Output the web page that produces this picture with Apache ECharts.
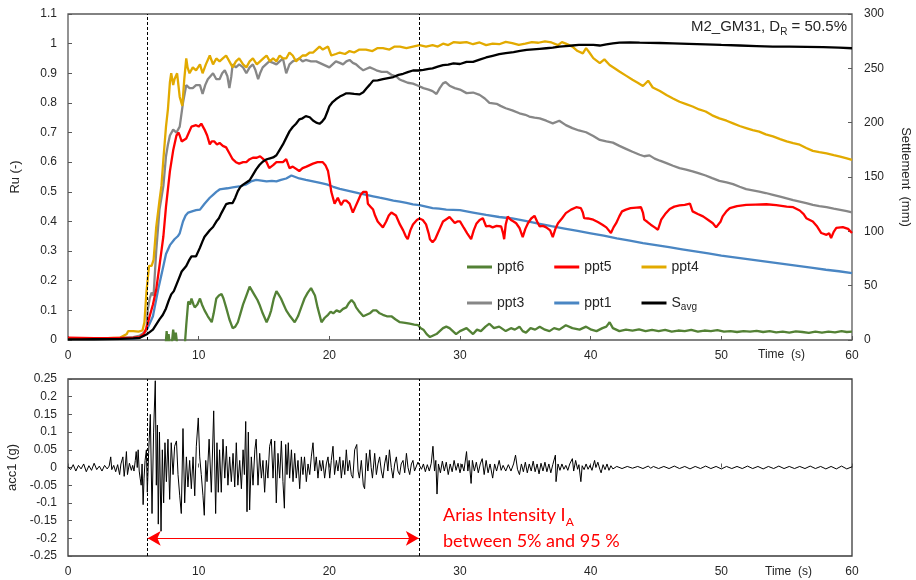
<!DOCTYPE html>
<html lang="en">

<head>
  <meta charset="UTF-8">
  <title>M2_GM31 pore pressure</title>
  <script src="https://cdn.jsdelivr.net/npm/echarts@6/dist/echarts.min.js"></script>
  <style>
    body { margin: 0; background: #fff; }
  </style>
</head>

<body>
  <div id="main" style="width: 916px;height: 580px;"></div>

  <script>
    // readings are [time (s), value]
    var ppt6 = [[0,-0.03],[7.45,-0.03],[7.55,0.03],[7.62,-0.01],[7.7,0.02],[7.8,-0.02],[7.95,-0.01],[8.05,0.035],[8.15,0.0],[8.25,0.025],[8.4,-0.03],[8.9,-0.04],[9.05,0.05],[9.2,0.13],[9.35,0.12],[9.45,0.14],[9.6,0.12],[9.7,0.11],[9.9,0.12],[10.1,0.14],[10.25,0.12],[10.45,0.1],[10.7,0.08],[11.0,0.06],[11.15,0.09],[11.35,0.14],[11.55,0.15],[11.75,0.155],[11.9,0.14],[12.1,0.11],[12.35,0.07],[12.6,0.04],[12.8,0.045],[13.0,0.06],[13.2,0.09],[13.4,0.12],[13.65,0.15],[13.9,0.18],[14.1,0.165],[14.3,0.15],[14.5,0.135],[14.65,0.12],[14.9,0.09],[15.2,0.06],[15.4,0.08],[15.55,0.1],[15.75,0.14],[15.95,0.165],[16.1,0.155],[16.3,0.14],[16.5,0.12],[16.7,0.1],[17.0,0.08],[17.35,0.06],[17.6,0.08],[17.85,0.11],[18.1,0.14],[18.35,0.16],[18.6,0.175],[18.75,0.17],[18.9,0.15],[19.1,0.11],[19.4,0.06],[19.65,0.075],[19.9,0.085],[20.1,0.095],[20.3,0.09],[20.55,0.1],[20.8,0.095],[21.05,0.105],[21.3,0.11],[21.5,0.125],[21.7,0.135],[21.9,0.125],[22.05,0.11],[22.3,0.095],[22.6,0.08],[22.85,0.085],[23.1,0.09],[23.35,0.1],[23.6,0.1],[23.85,0.09],[24.1,0.085],[24.4,0.08],[24.75,0.08],[25.05,0.07],[25.4,0.06],[25.8,0.058],[26.15,0.055],[26.5,0.052],[26.8,0.05],[27.0,0.04],[27.2,0.035],[27.45,0.02],[27.7,0.01],[27.95,0.015],[28.2,0.02],[28.45,0.03],[28.7,0.04],[28.95,0.045],[29.2,0.04],[29.45,0.03],[29.7,0.02],[30,0.03],[30.25,0.035],[30.5,0.04],[30.75,0.03],[31,0.02],[31.3,0.035],[31.6,0.03],[31.95,0.045],[32.25,0.055],[32.6,0.04],[33.0,0.045],[33.5,0.03],[33.9,0.04],[34.2,0.035],[34.55,0.045],[34.8,0.03],[35.05,0.025],[35.4,0.04],[35.75,0.035],[36.1,0.045],[36.5,0.035],[36.85,0.03],[37.2,0.04],[37.6,0.035],[38.1,0.05],[38.6,0.04],[39.15,0.035],[39.65,0.045],[40.05,0.035],[40.45,0.03],[40.9,0.04],[41.2,0.045],[41.45,0.06],[41.7,0.04],[42.2,0.03],[42.7,0.035],[43.2,0.032],[43.7,0.036],[44.2,0.03],[44.7,0.034],[45.2,0.03],[45.7,0.034],[46.2,0.028],[46.7,0.032],[47.2,0.03],[47.7,0.034],[48.2,0.028],[48.7,0.032],[49.2,0.03],[49.7,0.033],[50.2,0.028],[50.7,0.03],[51.2,0.027],[51.7,0.03],[52.2,0.028],[52.7,0.031],[53.2,0.027],[53.7,0.03],[54.2,0.026],[54.7,0.028],[55.2,0.025],[55.7,0.029],[56.2,0.027],[56.7,0.024],[57.2,0.028],[57.7,0.025],[58.2,0.028],[58.7,0.026],[59.2,0.03],[59.6,0.027],[60,0.028]]

    var ppt5 = [[0,0.008],[1,0.007],[2,0.006],[3,0.006],[4,0.007],[5,0.008],[5.5,0.01],[5.8,0.02],[6.0,0.04],[6.25,0.08],[6.5,0.12],[6.75,0.17],[7.0,0.25],[7.3,0.35],[7.5,0.45],[7.8,0.57],[8.05,0.64],[8.3,0.69],[8.45,0.7],[8.55,0.69],[8.7,0.67],[8.8,0.665],[9.05,0.68],[9.25,0.7],[9.45,0.72],[9.6,0.72],[9.8,0.725],[10.0,0.72],[10.2,0.73],[10.45,0.71],[10.65,0.69],[10.85,0.66],[11.0,0.67],[11.2,0.67],[11.4,0.66],[11.6,0.665],[11.85,0.655],[12.1,0.65],[12.35,0.63],[12.6,0.61],[12.85,0.6],[13.1,0.595],[13.4,0.6],[13.65,0.6],[13.9,0.61],[14.15,0.615],[14.45,0.615],[14.7,0.62],[14.95,0.61],[15.2,0.6],[15.4,0.58],[15.7,0.59],[15.95,0.6],[16.2,0.6],[16.45,0.6],[16.7,0.61],[16.95,0.58],[17.2,0.585],[17.35,0.58],[17.7,0.57],[17.95,0.58],[18.25,0.585],[18.5,0.59],[18.75,0.595],[19.1,0.6],[19.5,0.6],[19.7,0.59],[19.9,0.57],[20.05,0.53],[20.15,0.5],[20.4,0.46],[20.65,0.48],[20.9,0.455],[21.1,0.47],[21.3,0.47],[21.55,0.46],[21.8,0.43],[22.0,0.45],[22.2,0.47],[22.4,0.49],[22.6,0.5],[22.85,0.5],[22.95,0.46],[23.15,0.45],[23.35,0.44],[23.5,0.42],[23.7,0.4],[23.9,0.39],[24.1,0.38],[24.35,0.4],[24.55,0.42],[24.75,0.43],[24.9,0.425],[25.1,0.42],[25.4,0.39],[25.65,0.37],[25.85,0.35],[26.0,0.34],[26.2,0.37],[26.4,0.39],[26.7,0.405],[26.9,0.41],[27.15,0.405],[27.4,0.39],[27.6,0.36],[27.7,0.34],[27.9,0.33],[28.1,0.34],[28.3,0.36],[28.5,0.38],[28.7,0.4],[28.9,0.406],[29.2,0.415],[29.35,0.41],[29.6,0.395],[29.8,0.4],[30,0.4],[30.3,0.378],[30.55,0.36],[30.85,0.34],[31.05,0.37],[31.25,0.392],[31.5,0.405],[31.75,0.411],[32.0,0.383],[32.25,0.385],[32.5,0.38],[32.8,0.385],[33.15,0.383],[33.3,0.36],[33.38,0.34],[33.5,0.39],[33.65,0.417],[33.9,0.405],[34.1,0.4],[34.3,0.394],[34.55,0.378],[34.8,0.347],[35.0,0.375],[35.2,0.394],[35.45,0.41],[35.7,0.419],[35.9,0.4],[36.1,0.383],[36.35,0.385],[36.6,0.38],[36.9,0.37],[37.1,0.347],[37.3,0.375],[37.5,0.394],[37.8,0.41],[38.1,0.428],[38.5,0.44],[38.9,0.448],[39.25,0.445],[39.4,0.43],[39.5,0.411],[39.8,0.41],[40.2,0.406],[40.55,0.398],[40.9,0.389],[41.2,0.38],[41.55,0.361],[41.75,0.38],[41.95,0.394],[42.2,0.418],[42.4,0.434],[42.7,0.44],[43.05,0.445],[43.5,0.447],[43.85,0.448],[44.0,0.43],[44.1,0.406],[44.35,0.398],[44.6,0.389],[44.9,0.38],[45.15,0.372],[45.4,0.406],[45.7,0.425],[46.05,0.442],[46.4,0.45],[46.8,0.454],[47.2,0.456],[47.6,0.46],[47.8,0.434],[48.2,0.425],[48.6,0.417],[49.0,0.405],[49.35,0.394],[49.6,0.38],[49.75,0.374],[49.95,0.4],[50.1,0.417],[50.4,0.435],[50.65,0.445],[51.2,0.452],[51.9,0.456],[52.6,0.457],[53.45,0.458],[54.2,0.455],[55,0.45],[55.5,0.448],[56,0.437],[56.3,0.425],[56.5,0.411],[57,0.4],[57.3,0.385],[57.65,0.361],[58.05,0.355],[58.25,0.36],[58.4,0.344],[58.6,0.365],[58.8,0.378],[59.3,0.381],[59.7,0.375],[60,0.361]]

    var ppt4 = [[0,0.005],[1,0.006],[2,0.004],[3,0.006],[4,0.008],[4.5,0.02],[4.6,0.03],[5.0,0.03],[5.4,0.028],[5.7,0.032],[5.85,0.06],[6.0,0.16],[6.2,0.25],[6.4,0.25],[6.55,0.27],[6.75,0.38],[7.0,0.47],[7.15,0.52],[7.3,0.61],[7.5,0.72],[7.65,0.78],[7.8,0.87],[7.9,0.9],[8.05,0.86],[8.15,0.88],[8.35,0.9],[8.45,0.86],[8.55,0.82],[8.75,0.79],[8.9,0.88],[9.05,0.95],[9.15,0.92],[9.3,0.9],[9.55,0.92],[9.8,0.91],[10.1,0.93],[10.3,0.9],[10.55,0.93],[10.85,0.96],[11.1,0.93],[11.35,0.95],[11.6,0.94],[11.85,0.95],[12.1,0.96],[12.35,0.94],[12.6,0.92],[12.85,0.94],[13.1,0.95],[13.4,0.93],[13.65,0.92],[13.9,0.94],[14.15,0.95],[14.45,0.93],[14.7,0.94],[14.95,0.95],[15.2,0.96],[15.45,0.94],[15.7,0.95],[15.95,0.94],[16.2,0.96],[16.45,0.95],[16.7,0.95],[16.95,0.97],[17.2,0.96],[17.45,0.94],[17.7,0.95],[17.95,0.96],[18.2,0.96],[18.5,0.97],[18.75,0.97],[19.0,0.98],[19.25,0.99],[19.5,0.98],[19.9,0.99],[20.15,0.96],[20.5,0.965],[20.8,0.97],[21.2,0.965],[21.55,0.975],[21.9,0.97],[22.3,0.98],[22.8,0.98],[23.3,0.975],[23.7,0.985],[24.1,0.985],[24.6,0.98],[25.0,0.99],[25.4,0.99],[25.9,0.985],[26.4,0.99],[26.9,0.995],[27.4,0.99],[27.9,0.995],[28.3,0.99],[28.7,1.0],[29.1,0.995],[29.5,1.005],[30,1.003],[30.5,1.005],[31,0.998],[31.5,1.004],[32,0.995],[32.5,1.0],[33,0.998],[33.5,1.006],[34,1.002],[34.5,0.996],[35,1.0],[35.5,1.005],[36,1.003],[36.5,1.008],[37,1.004],[37.5,0.995],[37.8,1.005],[38.1,1.0],[38.6,0.99],[39.0,0.975],[39.4,0.967],[39.65,0.985],[39.9,0.97],[40.2,0.951],[40.7,0.934],[41.05,0.947],[41.45,0.928],[41.8,0.918],[42.2,0.906],[42.7,0.892],[43.2,0.878],[43.6,0.868],[44.0,0.857],[44.4,0.875],[44.75,0.852],[45.3,0.84],[45.8,0.827],[46.3,0.815],[46.8,0.804],[47.3,0.796],[47.8,0.788],[48.3,0.778],[48.8,0.771],[49.3,0.758],[49.85,0.748],[50.4,0.74],[50.9,0.731],[51.4,0.722],[51.9,0.715],[52.4,0.708],[52.9,0.703],[53.4,0.694],[53.95,0.687],[54.5,0.678],[55,0.67],[55.5,0.664],[56,0.659],[56.5,0.648],[57,0.638],[57.5,0.634],[58.05,0.63],[58.6,0.624],[59.1,0.619],[59.6,0.613],[60,0.608]]

    var ppt3 = [[0,0.004],[1,0.005],[2,0.004],[3,0.005],[4,0.006],[5,0.01],[5.5,0.015],[6.0,0.03],[6.1,0.1],[6.25,0.14],[6.4,0.16],[6.55,0.15],[6.75,0.3],[7.0,0.44],[7.15,0.48],[7.3,0.52],[7.5,0.62],[7.65,0.66],[7.8,0.69],[8.05,0.71],[8.3,0.7],[8.55,0.72],[8.8,0.8],[9.05,0.86],[9.3,0.85],[9.55,0.85],[9.8,0.86],[10.1,0.86],[10.3,0.83],[10.5,0.86],[10.7,0.88],[10.9,0.89],[11.1,0.9],[11.35,0.88],[11.6,0.88],[11.8,0.9],[12.0,0.91],[12.2,0.89],[12.35,0.85],[12.5,0.89],[12.6,0.93],[12.85,0.92],[13.1,0.93],[13.4,0.92],[13.65,0.9],[13.9,0.92],[14.15,0.93],[14.35,0.91],[14.55,0.88],[14.7,0.9],[14.9,0.92],[15.15,0.93],[15.4,0.94],[15.7,0.935],[15.95,0.93],[16.2,0.94],[16.45,0.95],[16.7,0.9],[16.95,0.93],[17.2,0.94],[17.45,0.945],[17.7,0.95],[17.95,0.94],[18.2,0.945],[18.6,0.94],[19.0,0.94],[19.25,0.935],[19.5,0.93],[19.75,0.925],[20.0,0.92],[20.25,0.93],[20.5,0.94],[20.8,0.935],[21.05,0.93],[21.3,0.94],[21.55,0.945],[21.8,0.935],[22.05,0.93],[22.3,0.92],[22.6,0.91],[22.85,0.915],[23.1,0.92],[23.35,0.915],[23.6,0.91],[24.0,0.905],[24.4,0.905],[24.75,0.895],[25.1,0.89],[25.35,0.88],[25.6,0.875],[26.0,0.868],[26.4,0.865],[26.8,0.858],[27.2,0.85],[27.6,0.845],[27.9,0.84],[28.2,0.83],[28.45,0.85],[28.7,0.866],[28.9,0.87],[29.2,0.858],[29.6,0.85],[30,0.845],[30.5,0.833],[31,0.835],[31.5,0.827],[31.9,0.815],[32.25,0.8],[32.8,0.797],[33.1,0.79],[33.5,0.782],[34.0,0.775],[34.55,0.765],[35.0,0.76],[35.3,0.754],[35.7,0.75],[36.1,0.748],[36.6,0.74],[37.1,0.731],[37.6,0.74],[38.1,0.725],[38.6,0.715],[39.1,0.707],[39.65,0.701],[40.2,0.688],[40.7,0.675],[41.2,0.67],[41.7,0.666],[42.2,0.655],[42.7,0.645],[43.2,0.635],[43.75,0.625],[44.1,0.62],[44.5,0.623],[44.9,0.612],[45.3,0.605],[45.8,0.597],[46.3,0.588],[46.8,0.58],[47.3,0.575],[47.8,0.569],[48.3,0.562],[48.8,0.555],[49.3,0.546],[49.85,0.537],[50.4,0.532],[50.9,0.526],[51.4,0.517],[51.9,0.509],[52.4,0.505],[52.9,0.501],[53.4,0.496],[53.95,0.49],[54.5,0.484],[55,0.478],[55.5,0.472],[56,0.467],[56.5,0.462],[57,0.456],[57.5,0.452],[58.05,0.448],[58.6,0.443],[59.1,0.439],[59.6,0.435],[60,0.431]]

    var ppt1 = [[0,0.004],[2,0.004],[4,0.004],[5,0.005],[5.5,0.008],[6.1,0.04],[6.5,0.08],[6.9,0.17],[7.3,0.25],[7.5,0.29],[7.8,0.32],[8.15,0.34],[8.4,0.35],[8.55,0.36],[8.8,0.4],[9.0,0.42],[9.2,0.43],[9.55,0.435],[9.8,0.438],[10.1,0.44],[10.45,0.46],[10.85,0.48],[11.1,0.49],[11.35,0.5],[11.6,0.508],[11.85,0.51],[12.2,0.512],[12.6,0.515],[13.1,0.518],[13.65,0.525],[14.0,0.535],[14.4,0.54],[14.8,0.538],[15.2,0.535],[15.6,0.537],[15.95,0.535],[16.3,0.54],[16.7,0.545],[17.1,0.555],[17.4,0.55],[17.7,0.545],[18.2,0.54],[18.75,0.535],[19.3,0.53],[19.8,0.525],[20.3,0.517],[20.8,0.51],[21.3,0.505],[21.8,0.5],[22.3,0.495],[22.85,0.49],[23.35,0.485],[23.85,0.48],[24.4,0.475],[24.9,0.47],[25.4,0.467],[25.9,0.463],[26.4,0.458],[26.9,0.455],[27.4,0.45],[27.9,0.445],[28.4,0.443],[28.95,0.44],[30,0.438],[31,0.43],[32,0.422],[33,0.415],[34,0.41],[35,0.402],[36,0.393],[37,0.384],[38,0.376],[39,0.368],[40,0.36],[41,0.352],[42,0.343],[43,0.335],[44,0.327],[45,0.32],[46,0.313],[47,0.306],[48,0.299],[49,0.292],[50,0.285],[51,0.279],[52,0.273],[53,0.267],[54,0.261],[55,0.255],[56,0.249],[57,0.243],[58,0.237],[59,0.232],[60,0.226]]

    // settlement (mm), right axis
    var sAvg = [[0,0.5],[1,0.6],[2,0.7],[3,0.8],[4,1],[5,1.5],[5.5,2],[6.0,5],[6.5,9.5],[7.0,19],[7.25,23],[7.5,29],[7.7,36],[7.9,42],[8.1,45],[8.3,51],[8.5,57],[8.7,63],[9.05,68],[9.25,73],[9.45,77],[9.8,77],[10.1,85],[10.3,91],[10.45,95],[10.85,101],[11.1,104],[11.35,109],[11.55,112],[11.75,117],[12.1,125],[12.35,126],[12.6,126],[12.8,131],[13.0,137],[13.2,141],[13.4,143],[13.65,145],[13.9,147],[14.15,152],[14.4,157],[14.65,161],[14.9,164],[15.15,166],[15.4,167],[15.7,168],[15.95,170],[16.2,175],[16.45,180],[16.7,186],[16.95,192],[17.2,196],[17.45,199],[17.7,203],[17.95,204],[18.2,206],[18.5,205],[18.75,202],[19.0,200],[19.25,199],[19.45,201],[19.65,204],[19.85,210],[20.0,215],[20.25,219],[20.5,221.5],[20.8,224],[21.05,225.5],[21.3,227],[21.55,227],[21.9,226.5],[22.3,226],[22.6,228],[22.85,231.6],[23.1,235],[23.35,238.7],[23.7,239],[24.1,240],[24.5,241],[24.9,242],[25.3,244],[25.65,245],[26.0,246.5],[26.4,248],[26.8,248],[27.2,248.5],[27.6,249.5],[27.9,250],[28.3,251.5],[28.7,253],[29.1,253.5],[29.5,254.6],[30,254],[30.5,256],[31,256],[31.5,258],[32,260],[32.5,261.5],[33,263],[33.5,264],[34.1,265],[34.6,266],[35.1,267],[35.6,267.5],[36.1,268],[36.6,268.5],[37.1,269],[37.6,270],[38.1,270.5],[38.6,271],[39.1,271.5],[39.6,271.5],[40.2,271.5],[40.7,271],[41.2,272],[41.7,273],[42.2,273.6],[43,273.8],[43.75,273.6],[44.5,273.5],[45.3,273.3],[46.3,273],[47.5,272.5],[48.8,272],[50,271.5],[51.4,271],[52.7,270.5],[53.95,270],[55.2,270],[56.5,269.8],[57.8,269.5],[59,269],[60,268.5]]

    // base acceleration (g)
    var acc1 = [[0,0.002],[0.2,-0.006],[0.4,0.008],[0.6,-0.01],[0.8,0.006],[1.0,-0.004],[1.2,0.01],[1.4,-0.012],[1.6,0.005],[1.8,-0.008],[2.0,0.012],[2.2,-0.006],[2.4,0.004],[2.6,-0.01],[2.8,0.006],[3.0,-0.004],[3.15,0.004],[3.27,0.03],[3.35,-0.006],[3.5,0.006],[3.65,-0.012],[3.8,0.008],[3.95,-0.02],[4.05,0.01],[4.2,0.03],[4.3,-0.025],[4.4,0.01],[4.47,0.045],[4.55,-0.02],[4.7,0.012],[4.85,-0.008],[4.95,0.006],[5.05,-0.01],[5.15,0.02],[5.22,0.045],[5.3,0.0],[5.37,0.05],[5.45,-0.01],[5.52,-0.03],[5.6,-0.05],[5.67,0.01],[5.75,-0.105],[5.82,-0.03],[5.9,0.02],[6.0,0.05],[6.07,-0.07],[6.17,0.04],[6.3,0.15],[6.43,-0.13],[6.55,0.1],[6.68,0.245],[6.76,-0.05],[6.84,0.12],[6.91,-0.16],[7.0,0.1],[7.12,-0.18],[7.22,0.05],[7.32,-0.1],[7.42,0.07],[7.53,-0.04],[7.65,0.08],[7.78,-0.09],[7.9,0.07],[8.04,-0.02],[8.16,0.06],[8.3,0.075],[8.42,-0.02],[8.55,-0.08],[8.67,-0.13],[8.8,0.11],[8.93,-0.1],[9.06,0.03],[9.18,-0.055],[9.31,0.02],[9.44,-0.06],[9.57,0.03],[9.7,-0.08],[9.82,0.06],[9.97,0.14],[10.08,0.03],[10.2,-0.02],[10.33,-0.08],[10.43,-0.135],[10.54,0.02],[10.64,-0.04],[10.8,0.08],[10.97,-0.07],[11.15,0.16],[11.3,-0.13],[11.4,0.07],[11.5,-0.07],[11.6,0.05],[11.73,-0.07],[11.86,0.08],[12.0,-0.03],[12.12,0.06],[12.24,-0.05],[12.37,0.03],[12.5,-0.04],[12.63,0.04],[12.76,-0.055],[12.88,0.07],[13.0,-0.05],[13.14,0.02],[13.27,-0.06],[13.4,0.05],[13.5,-0.02],[13.6,0.13],[13.7,-0.125],[13.8,0.1],[13.9,-0.12],[14.03,0.03],[14.16,-0.05],[14.3,0.05],[14.4,0.08],[14.54,-0.05],[14.67,0.04],[14.8,-0.03],[14.92,0.02],[15.05,-0.07],[15.18,0.02],[15.3,-0.03],[15.43,0.06],[15.56,0.08],[15.69,-0.03],[15.82,0.075],[15.94,-0.1],[16.07,0.04],[16.2,-0.03],[16.33,0.075],[16.45,-0.04],[16.56,-0.115],[16.66,0.065],[16.76,-0.02],[16.86,0.07],[16.96,-0.03],[17.1,0.05],[17.22,-0.04],[17.35,0.04],[17.47,-0.03],[17.6,0.02],[17.73,-0.06],[17.86,0.03],[17.98,-0.02],[18.1,0.03],[18.24,-0.04],[18.37,0.01],[18.5,-0.02],[18.62,0.03],[18.75,0.07],[18.88,-0.01],[19.0,0.03],[19.13,-0.03],[19.26,0.02],[19.39,-0.01],[19.5,0.02],[19.64,-0.03],[19.77,0.01],[19.9,0.03],[20.03,-0.03],[20.15,0.02],[20.28,0.06],[20.4,-0.02],[20.54,0.02],[20.66,-0.01],[20.8,0.03],[20.92,-0.03],[21.05,0.02],[21.18,-0.02],[21.3,0.05],[21.42,-0.01],[21.55,0.02],[21.68,-0.02],[21.8,-0.03],[21.94,0.05],[22.1,0.065],[22.2,-0.01],[22.3,-0.03],[22.45,0.02],[22.6,-0.05],[22.7,-0.06],[22.83,0.04],[22.95,-0.01],[23.1,0.05],[23.2,0.0],[23.3,-0.03],[23.47,0.04],[23.6,-0.02],[23.72,0.01],[23.85,0.03],[23.98,-0.01],[24.1,-0.03],[24.23,0.01],[24.36,0.035],[24.48,-0.01],[24.6,0.05],[24.74,0.0],[24.87,-0.03],[25.0,0.01],[25.13,0.03],[25.25,-0.01],[25.38,-0.02],[25.5,0.01],[25.64,0.02],[25.77,-0.015],[25.9,0.04],[26.02,0.0],[26.15,-0.02],[26.28,0.01],[26.4,0.02],[26.52,-0.01],[26.65,-0.01],[26.78,0.015],[26.9,0.02],[27.05,-0.005],[27.2,0.01],[27.35,-0.012],[27.5,0.008],[27.65,-0.01],[27.8,0.012],[27.93,0.06],[28.05,-0.01],[28.15,0.02],[28.24,-0.075],[28.35,0.01],[28.5,-0.015],[28.65,0.018],[28.8,-0.01],[28.95,0.015],[29.1,-0.02],[29.25,0.01],[29.4,-0.012],[29.55,0.02],[29.7,-0.008],[29.85,0.012],[30.0,-0.015],[30.15,0.01],[30.3,-0.01],[30.5,0.045],[30.6,-0.01],[30.7,0.02],[30.85,-0.045],[30.95,0.02],[31.1,-0.01],[31.25,0.015],[31.4,-0.015],[31.55,0.01],[31.7,0.025],[31.85,-0.02],[32.0,0.02],[32.15,-0.015],[32.3,0.01],[32.5,-0.03],[32.65,0.01],[32.8,-0.01],[33.0,0.02],[33.15,-0.008],[33.3,0.006],[33.5,-0.01],[33.7,0.008],[33.9,-0.01],[34.1,0.01],[34.25,0.035],[34.4,-0.005],[34.55,-0.02],[34.7,0.01],[34.85,-0.012],[35.0,0.015],[35.15,-0.015],[35.3,0.01],[35.45,-0.01],[35.6,0.018],[35.75,-0.012],[35.9,0.01],[36.05,-0.018],[36.2,0.012],[36.35,-0.01],[36.5,0.015],[36.65,-0.012],[36.8,0.01],[36.95,-0.015],[37.1,0.008],[37.3,0.035],[37.35,-0.04],[37.5,0.01],[37.65,-0.008],[37.8,0.01],[37.95,-0.005],[38.1,0.006],[38.25,-0.008],[38.4,0.01],[38.6,0.025],[38.7,-0.01],[38.85,0.02],[39.0,-0.005],[39.1,0.008],[39.25,-0.04],[39.35,0.005],[39.5,-0.006],[39.65,0.01],[39.8,-0.005],[39.95,0.006],[40.1,-0.008],[40.3,0.02],[40.4,0.0],[40.55,0.015],[40.7,-0.005],[40.8,-0.015],[40.95,0.008],[41.1,-0.006],[41.25,0.01],[41.4,-0.008],[41.55,0.005],[41.7,-0.004],[42.0,0.003],[42.4,-0.003],[42.8,0.003],[43.2,-0.002],[43.6,0.003],[44.0,-0.003],[44.4,0.004],[44.6,-0.002],[44.8,0.003],[45.2,-0.003],[45.6,0.003],[46.0,-0.003],[46.4,0.004],[46.8,-0.003],[47.2,0.003],[47.6,-0.004],[48.0,0.003],[48.4,-0.003],[48.8,0.004],[49.2,-0.003],[49.6,0.003],[50.0,-0.004],[50.4,0.003],[50.8,-0.003],[51.2,0.003],[51.6,-0.003],[52.0,0.004],[52.4,-0.003],[52.8,0.003],[53.2,-0.004],[53.6,0.003],[54.0,-0.003],[54.4,0.004],[54.8,-0.003],[55.2,0.003],[55.6,-0.003],[56.0,0.003],[56.4,-0.003],[56.8,0.004],[57.2,-0.003],[57.6,0.003],[58.0,-0.004],[58.4,0.003],[58.8,-0.004],[59.2,0.004],[59.6,-0.004],[60.0,0.002]]

    // Arias intensity 5% and 95% times (s)
    var ariasTimes = [6.1, 26.85]
    var ariasArrowY = -0.2

    var txt = '#262626'
    var frame = '#595959'
    var font = 'Liberation Sans'

    function fmt(v) { return String(+v.toFixed(2)) }

    function xAxisFor(idx) {
      return {
        type: 'value', gridIndex: idx, min: 0, max: 60, interval: 10,
        axisLine: { show: false },
        axisTick: { inside: true, length: 4, lineStyle: { color: frame } },
        axisLabel: { color: txt, fontFamily: font, fontSize: 12, margin: 10 },
        splitLine: { show: false }
      }
    }

    function pptLine(name, data, color) {
      return {
        name: name, type: 'line', xAxisIndex: 0, yAxisIndex: 0, data: data,
        showSymbol: false, symbol: 'none', lineStyle: { color: color, width: 2.3 }, itemStyle: { color: color }
      }
    }

    var dashed = { color: '#000', width: 1, type: [3, 2] }
    var legendText = { color: txt, fontFamily: font, fontSize: 14 }

    var mCharts = echarts.init(document.getElementById('main'))
    var option = {
      animation: false,
      backgroundColor: '#fff',
      grid: [
        { left: 68, top: 14, width: 784, height: 326, outerBoundsMode: 'none', show: true, borderColor: frame, borderWidth: 1.3, backgroundColor: 'transparent' },
        { left: 68, top: 379, width: 784, height: 177, outerBoundsMode: 'none', show: true, borderColor: '#3a3a3a', borderWidth: 1.3, backgroundColor: 'transparent' }
      ],
      xAxis: [xAxisFor(0), xAxisFor(1)],
      yAxis: [
        {
          type: 'value', gridIndex: 0, min: 0, max: 1.1, interval: 0.1,
          name: 'Ru (-)', nameLocation: 'middle', nameGap: 46,
          nameTextStyle: { color: txt, fontFamily: font, fontSize: 13 },
          axisLine: { show: false },
          axisTick: { inside: true, length: 4, lineStyle: { color: frame } },
          axisLabel: { color: txt, fontFamily: font, fontSize: 12, margin: 11, formatter: fmt },
          splitLine: { show: false }
        },
        {
          type: 'value', gridIndex: 0, position: 'right', min: 0, max: 300, interval: 50,
          name: 'Settlement  (mm)', nameLocation: 'middle', nameGap: 47, nameRotate: -90,
          nameTextStyle: { color: txt, fontFamily: font, fontSize: 13 },
          axisLine: { show: false },
          axisTick: { inside: true, length: 4, lineStyle: { color: frame } },
          axisLabel: { color: txt, fontFamily: font, fontSize: 12, margin: 12 },
          splitLine: { show: false }
        },
        {
          type: 'value', gridIndex: 1, min: -0.25, max: 0.25, interval: 0.05,
          name: 'acc1 (g)', nameLocation: 'middle', nameGap: 46,
          nameTextStyle: { color: txt, fontFamily: font, fontSize: 13 },
          axisLine: { show: false },
          axisTick: { inside: true, length: 4, lineStyle: { color: frame } },
          axisLabel: { color: txt, fontFamily: font, fontSize: 12, margin: 11, formatter: fmt },
          splitLine: { show: false }
        }
      ],
      legend: [
        {
          data: ['ppt6', 'ppt5', 'ppt4'], left: 467, top: 260, padding: 0, itemWidth: 25, itemHeight: 3, itemGap: 30,
          icon: 'rect', textStyle: legendText
        },
        {
          data: ['ppt3', 'ppt1', 'Savg'], left: 467, top: 294, padding: 0, itemWidth: 25, itemHeight: 3, itemGap: 30,
          icon: 'rect',
          formatter: function (name) { return name === 'Savg' ? '{m|S}{s|avg}' : name },
          textStyle: {
            color: txt, fontFamily: font, fontSize: 14,
            rich: {
              m: { color: txt, fontFamily: font, fontSize: 14, lineHeight: 18 },
              s: { color: txt, fontFamily: font, fontSize: 10, lineHeight: 18, verticalAlign: 'bottom', padding: [8, 0, 0, 0] }
            }
          }
        }
      ],
      graphic: [
        {
          type: 'text', right: 69, top: 18,
          style: {
            text: '{a|M2_GM31, D}{s|R}{a| = 50.5%}',
            rich: {
              a: { fontFamily: font, fontSize: 15, fill: txt, lineHeight: 20 },
              s: { fontFamily: font, fontSize: 10, fill: txt, lineHeight: 20, verticalAlign: 'bottom', padding: [9, 0, 0, 0] }
            }
          }
        },
        { type: 'text', left: 758, top: 349, style: { text: 'Time  (s)', fontFamily: font, fontSize: 12, fill: txt } },
        { type: 'text', left: 765, top: 566, style: { text: 'Time  (s)', fontFamily: font, fontSize: 12, fill: txt } },
        {
          type: 'text', left: 443, top: 506,
          style: {
            text: '{a|Arias Intensity I}{s|A}\n{a|between 5% and 95 %}',
            rich: {
              a: { fontFamily: 'Lato', fontSize: 18, fill: '#ff0000', lineHeight: 26 },
              s: { fontFamily: 'Lato', fontSize: 12, fill: '#ff0000', lineHeight: 26, verticalAlign: 'bottom', padding: [10, 0, 0, 0] }
            }
          }
        }
      ],
      series: [
        pptLine('ppt1', ppt1, '#4a86c3'),
        pptLine('ppt3', ppt3, '#878787'),
        pptLine('ppt4', ppt4, '#e2aa00'),
        pptLine('ppt5', ppt5, '#ff0000'),
        {
          name: 'ppt6', type: 'line', xAxisIndex: 0, yAxisIndex: 0, data: ppt6,
          showSymbol: false, symbol: 'none', lineStyle: { color: '#538135', width: 2.3 }, itemStyle: { color: '#538135' },
          markLine: {
            silent: true, symbol: 'none', label: { show: false }, lineStyle: dashed,
            data: ariasTimes.map(function (t) { return { xAxis: t } })
          }
        },
        {
          name: 'Savg', type: 'line', xAxisIndex: 0, yAxisIndex: 1, data: sAvg,
          showSymbol: false, symbol: 'none', lineStyle: { color: '#000', width: 2.3 }, itemStyle: { color: '#000' }
        },
        {
          name: 'acc1', type: 'line', xAxisIndex: 1, yAxisIndex: 2, data: acc1,
          showSymbol: false, symbol: 'none', lineStyle: { color: '#000', width: 1 },
          markLine: {
            silent: true, symbol: 'none', label: { show: false }, lineStyle: dashed,
            data: [
              { xAxis: ariasTimes[0] },
              { xAxis: ariasTimes[1] },
              [
                { coord: [ariasTimes[0], ariasArrowY], symbol: 'arrow', symbolSize: [11, 13], lineStyle: { color: '#ff0000', width: 1.2, type: 'solid' } },
                { coord: [ariasTimes[1], ariasArrowY], symbol: 'arrow', symbolSize: [11, 13] }
              ]
            ]
          }
        }
      ]
    }
    mCharts.setOption(option)
  </script>
</body>

</html>
